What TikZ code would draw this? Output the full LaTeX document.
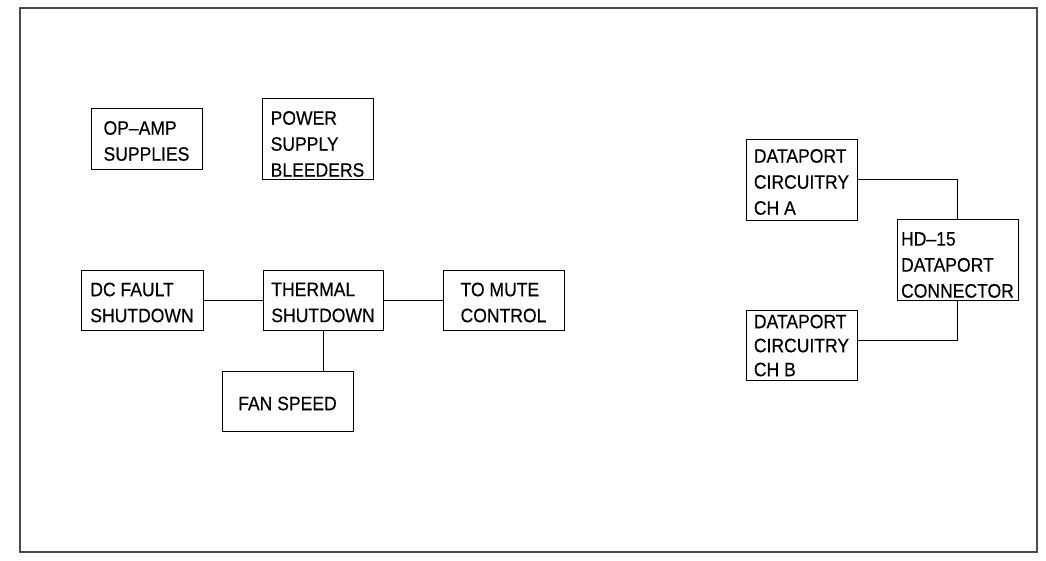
\documentclass[tikz,border=0pt]{standalone}
\usepackage{fontspec}
\setmainfont{Liberation Sans}[FakeStretch=0.9,FakeBold=0.4]
\newcommand{\blkfont}{\fontsize{19.5}{26}\selectfont}

\begin{document}
\begin{tikzpicture}[x=1pt,y=-1pt,
    blk/.style={draw,line width=0.9pt,inner sep=0pt},
    txt/.style={align=left,inner sep=0pt,font=\blkfont,yshift=-2.5pt},
    wire/.style={line width=0.9pt}]
      \useasboundingbox (0,0) rectangle (1046,560);
      \draw[line width=1.6pt,black!70] (20,8) rectangle (1037,552);
      \draw
        (146.5,138.5) node[blk,minimum width=111pt,minimum height=61pt,label={[txt]center:{OP--AMP\\SUPPLIES}}] (opamp){}
        (317.5,138.5) node[blk,minimum width=111pt,minimum height=81pt,label={[txt,yshift=-3pt]center:{POWER\\SUPPLY\\BLEEDERS}}] (bleed){}
        (142,300) node[blk,minimum width=122pt,minimum height=60pt,label={[txt]center:{DC FAULT\\SHUTDOWN}}] (dcfault){}
        (323,300) node[blk,minimum width=120pt,minimum height=60pt,label={[txt]center:{THERMAL\\SHUTDOWN}}] (thermal){}
        (503.5,300) node[blk,minimum width=121pt,minimum height=60pt,label={[txt]center:{TO MUTE\\CONTROL}}] (mute){}
        (287.5,401) node[blk,minimum width=131pt,minimum height=60pt,label={[txt]center:{FAN SPEED}}] (fan){}
        (801.5,179.5) node[blk,minimum width=111pt,minimum height=81pt,label={[txt]center:{DATAPORT\\CIRCUITRY\\CH A}}] (dpa){}
        (957.5,259.5) node[blk,minimum width=121pt,minimum height=81pt,label={[txt,yshift=-3pt]center:{HD--15\\DATAPORT\\CONNECTOR}}] (hd){}
        (801.5,345) node[blk,minimum width=111pt,minimum height=70pt,label={[txt,yshift=2pt,font=\fontsize{19.5}{24}\selectfont]center:{DATAPORT\\CIRCUITRY\\CH B}}] (dpb){};
      \begin{scope}[wire]
        \draw (dcfault) -- (thermal);
        \draw (thermal) -- (mute);
        \draw (thermal.south) -- (thermal.south |- fan.north);
        \draw (dpa.east) -| (hd.north);
        \draw (hd.south) |- ([yshift=5pt]dpb.east);
      \end{scope}
    \end{tikzpicture}
\end{document}
